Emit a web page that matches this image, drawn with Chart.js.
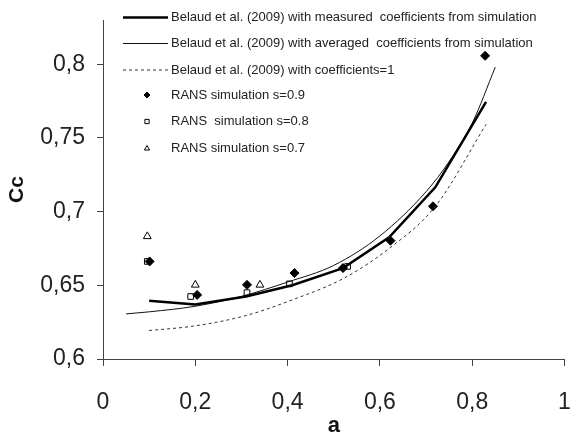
<!DOCTYPE html>
<html>
<head>
<meta charset="utf-8">
<script src="https://cdn.jsdelivr.net/npm/chart.js@4/dist/chart.umd.min.js"></script>
<style>
  body { margin: 0; background: #fff; }
  #wrap { width: 570px; height: 437px; }
</style>
</head>
<body>
<div id="wrap"><canvas id="mainChart"></canvas></div>
<script>
// tick values
const xTicks = [0, 0.2, 0.4, 0.6, 0.8, 1];
const yTicks = [0.6, 0.65, 0.7, 0.75, 0.8];

// Belaud et al. (2009) curves
const measuredA = [0.1, 0.2, 0.31, 0.41, 0.52, 0.62, 0.72, 0.83];
const measuredCc = [0.6395, 0.637, 0.6424, 0.650, 0.6617, 0.6825, 0.7165, 0.7744];

const averagedA = [0.05, 0.1, 0.2, 0.3, 0.4, 0.5, 0.6, 0.7, 0.75, 0.8, 0.85];
const averagedCc = [0.6306, 0.632, 0.6358, 0.6425, 0.6522, 0.6635, 0.6835, 0.7135, 0.734, 0.760, 0.798];

const coef1A = [0.1, 0.2, 0.31, 0.41, 0.52, 0.62, 0.72, 0.83];
const coef1Cc = [0.6193, 0.6225, 0.6295, 0.6401, 0.6545, 0.675, 0.7035, 0.7592];

// RANS simulation points
const s09A = [0.101, 0.204, 0.312, 0.415, 0.52, 0.623, 0.715, 0.828];
const s09Cc = [0.6662, 0.6435, 0.6503, 0.6583, 0.6617, 0.6803, 0.7036, 0.8057];

const s08A = [0.096, 0.19, 0.312, 0.404, 0.53];
const s08Cc = [0.6662, 0.6424, 0.645, 0.651, 0.6628];

const s07A = [0.096, 0.2, 0.34];
const s07Cc = [0.6832, 0.6503, 0.6503];

const toXY = (xs, ys) => xs.map((x, i) => ({ x: x, y: ys[i] }));
const comma = v => String(+v.toFixed(2)).replace('.', ',');

const data = {
  datasets: [
    {
      label: 'Belaud et al. (2009) with measured  coefficients from simulation',
      data: toXY(measuredA, measuredCc),
      showLine: true, borderColor: '#000', borderWidth: 2.5, pointRadius: 0
    },
    {
      label: 'Belaud et al. (2009) with averaged  coefficients from simulation',
      data: toXY(averagedA, averagedCc),
      showLine: true, borderColor: '#111', borderWidth: 1, pointRadius: 0,
      cubicInterpolationMode: 'monotone'
    },
    {
      label: 'Belaud et al. (2009) with coefficients=1',
      data: toXY(coef1A, coef1Cc),
      showLine: true, borderColor: '#333', borderWidth: 1, borderDash: [3, 3], pointRadius: 0,
      cubicInterpolationMode: 'monotone'
    },
    {
      label: 'RANS simulation s=0.9',
      data: toXY(s09A, s09Cc),
      pointStyle: 'rectRot', pointRadius: 4.5, backgroundColor: '#000', borderColor: '#000', borderWidth: 1
    },
    {
      label: 'RANS  simulation s=0.8',
      data: toXY(s08A, s08Cc),
      pointStyle: 'rect', pointRadius: 4, backgroundColor: '#fff', borderColor: '#000', borderWidth: 1
    },
    {
      label: 'RANS simulation s=0.7',
      data: toXY(s07A, s07Cc),
      pointStyle: 'triangle', pointRadius: 4.5, backgroundColor: '#fff', borderColor: '#000', borderWidth: 1
    }
  ]
};

// legend drawn in a column at top-left of plot, like the original
const legendRows = [17.5, 43.5, 70, 95, 121.5, 148.5];
const columnLegend = {
  id: 'columnLegend',
  afterDraw(chart) {
    const ctx = chart.ctx;
    ctx.save();
    ctx.font = '13px "Liberation Sans", Arial, sans-serif';
    ctx.textBaseline = 'middle';
    ctx.fillStyle = '#222';
    chart.data.datasets.forEach((ds, i) => {
      const y = legendRows[i];
      if (ds.showLine) {
        ctx.beginPath();
        ctx.strokeStyle = ds.borderColor;
        ctx.lineWidth = ds.borderWidth;
        ctx.setLineDash(ds.borderDash || []);
        ctx.moveTo(123, y);
        ctx.lineTo(168, y);
        ctx.stroke();
        ctx.setLineDash([]);
      } else {
        ctx.fillStyle = ds.backgroundColor;
        ctx.strokeStyle = ds.borderColor;
        ctx.lineWidth = 1;
        Chart.helpers.drawPoint(ctx, {
          pointStyle: ds.pointStyle, radius: 3, borderWidth: 1
        }, 147, y);
        ctx.fillStyle = '#222';
      }
      ctx.fillText(ds.label, 171, y);
    });
    ctx.restore();
  }
};

const tickFont = { family: '"Liberation Sans", Arial, sans-serif', size: 23 };

const config = {
  type: 'scatter',
  data: data,
  options: {
    responsive: true,
    maintainAspectRatio: false,
    animation: false,
    layout: { padding: { top: 20, right: 4, left: 0, bottom: 0 } },
    scales: {
      x: {
        min: 0,
        max: 1,
        afterBuildTicks: scale => { scale.ticks = xTicks.map(v => ({ value: v })); },
        afterFit: scale => { scale.height = 78; scale.paddingLeft = 0; scale.paddingRight = 0; },
        grid: { drawOnChartArea: false, drawTicks: true, tickLength: 7, color: '#444' },
        border: { display: true, color: '#444', width: 1 },
        ticks: { font: tickFont, color: '#222', padding: 23, maxRotation: 0, callback: v => comma(v) },
        title: {
          display: true, text: 'a', color: '#111',
          font: { family: '"Liberation Sans", Arial, sans-serif', size: 22, weight: 'bold', lineHeight: 1 },
          padding: 0
        }
      },
      y: {
        min: 0.6,
        max: 0.83,
        afterBuildTicks: scale => { scale.ticks = yTicks.map(v => ({ value: v })); },
        afterFit: scale => { scale.width = 103; scale.paddingTop = 0; scale.paddingBottom = 0; },
        grid: { drawOnChartArea: false, drawTicks: true, tickLength: 6, color: '#444' },
        border: { display: true, color: '#444', width: 1 },
        ticks: { font: tickFont, color: '#222', padding: 12, callback: v => comma(v) },
        title: {
          display: true, text: 'Cc', color: '#111',
          font: { family: '"Liberation Sans", Arial, sans-serif', size: 21, weight: 'bold', lineHeight: 1.2 },
          padding: { top: 5, bottom: 0 }
        }
      }
    },
    plugins: {
      legend: { display: false },
      tooltip: { enabled: false }
    }
  },
  plugins: [columnLegend]
};

const c = new Chart('mainChart', config);
</script>
</body>
</html>
